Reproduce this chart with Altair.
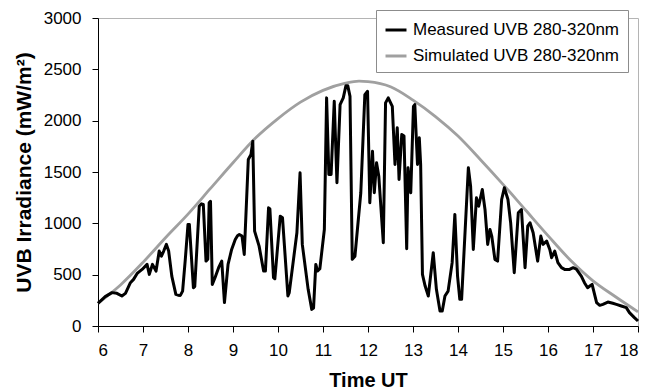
import altair as alt
import pandas as pd

# Measured UVB irradiance (280-320 nm), time in UT hours, mW/m2
meas_time = [
    6.00, 6.16, 6.31, 6.42, 6.53, 6.61, 6.72, 6.79, 6.87, 6.98,
    7.09, 7.14, 7.21, 7.29, 7.36, 7.41, 7.46, 7.52, 7.57, 7.64,
    7.73, 7.78, 7.83, 7.88, 7.94, 8.00, 8.03, 8.12, 8.15, 8.25,
    8.30, 8.34, 8.40, 8.44, 8.47, 8.50, 8.54, 8.60, 8.68, 8.75,
    8.81, 8.89, 8.97, 9.05, 9.10, 9.14, 9.20, 9.25, 9.34, 9.40,
    9.44, 9.48, 9.58, 9.68, 9.72, 9.79, 9.82, 9.90, 9.93, 10.05,
    10.10, 10.22, 10.25, 10.42, 10.49, 10.54, 10.67, 10.75, 10.79, 10.84,
    10.88, 10.93, 11.03, 11.08, 11.13, 11.18, 11.25, 11.31, 11.38, 11.45,
    11.51, 11.55, 11.60, 11.65, 11.71, 11.84, 11.93, 11.99, 12.04, 12.10,
    12.14, 12.19, 12.24, 12.34, 12.39, 12.45, 12.54, 12.60, 12.65, 12.69,
    12.75, 12.80, 12.86, 12.89, 12.95, 13.01, 13.04, 13.10, 13.14, 13.17,
    13.21, 13.27, 13.34, 13.45, 13.52, 13.60, 13.65, 13.71, 13.78, 13.87,
    13.93, 13.99, 14.04, 14.08, 14.23, 14.28, 14.34, 14.41, 14.46, 14.54,
    14.60, 14.66, 14.71, 14.75, 14.82, 14.88, 14.97, 15.03, 15.11, 15.17,
    15.25, 15.34, 15.41, 15.49, 15.55, 15.60, 15.67, 15.77, 15.84, 15.89,
    15.97, 16.04, 16.08, 16.15, 16.22, 16.30, 16.37, 16.48, 16.56, 16.63,
    16.74, 16.81, 16.88, 16.93, 16.98, 17.08, 17.15, 17.22, 17.33, 17.44,
    17.52, 17.63, 17.74, 17.81, 17.92, 18.00,
]
meas_uvb = [
    221, 286, 325, 318, 292, 318, 422, 454, 512, 551,
    600, 503, 600, 535, 730, 681, 730, 795, 730, 486,
    308, 300, 298, 340, 649, 989, 989, 373, 383, 1167,
    1190, 1184, 632, 650, 1200, 1215, 405, 470, 568, 632,
    228, 600, 746, 843, 880, 892, 876, 697, 1621, 1670,
    1800, 924, 778, 535, 535, 1151, 1140, 471, 460, 1070,
    1054, 292, 325, 908, 1492, 795, 357, 162, 175, 600,
    535, 558, 940, 2222, 1476, 1476, 2189, 1395, 2157, 2222,
    2341, 2341, 2237, 649, 680, 1298, 2254, 2286, 1200, 1702,
    1298, 1589, 1459, 811, 2173, 2222, 2140, 1573, 1930, 1427,
    1865, 1850, 753, 1541, 1298, 2140, 2157, 1573, 1833, 1573,
    503, 389, 292, 714, 357, 146, 146, 292, 340, 617,
    1087, 486, 260, 260, 1541, 1362, 746, 1249, 1167, 1330,
    1135, 795, 940, 876, 649, 632, 1232, 1346, 1232, 1006,
    519, 1103, 1135, 568, 973, 1006, 908, 632, 876, 795,
    827, 746, 665, 730, 617, 568, 551, 551, 568, 555,
    486, 422, 373, 389, 405, 228, 201, 211, 233, 221,
    211, 195, 179, 130, 82, 49,
]

# Simulated clear-sky UVB irradiance
sim_time = [6.0, 6.5, 7.0, 7.5, 8.0, 8.5, 9.0, 9.5, 10.0, 10.5, 11.0, 11.5,
            11.8, 12.0, 12.5, 13.0, 13.5, 14.0, 14.5, 15.0, 15.5, 16.0,
            16.5, 17.0, 17.5, 18.0]
sim_uvb = [222, 400, 620, 860, 1090, 1340, 1590, 1830, 2020, 2180, 2295, 2365,
           2385, 2380, 2330, 2200, 2040, 1850, 1620, 1380, 1130, 880,
           640, 440, 285, 138]

MEAS = "Measured UVB 280-320nm"
SIM = "Simulated UVB 280-320nm"

meas_df = pd.DataFrame({"t": meas_time, "uvb": meas_uvb, "series": MEAS})
sim_df = pd.DataFrame({"t": sim_time, "uvb": sim_uvb, "series": SIM})

FONT = "Liberation Sans"

x_enc = alt.X(
    "t:Q",
    scale=alt.Scale(domain=[6, 18], nice=False),
    axis=alt.Axis(
        title="Time UT",
        values=list(range(6, 19)),
        format="d",
        tickSize=6,
        labelPadding=10,
        titlePadding=12,
    ),
)
y_enc = alt.Y(
    "uvb:Q",
    scale=alt.Scale(domain=[0, 3000], nice=False),
    axis=alt.Axis(
        title="UVB Irradiance (mW/m²)",
        titleFontSize=21,
        values=list(range(0, 3001, 500)),
        format="d",
        tickSize=6,
        labelPadding=11,
        titlePadding=9,
    ),
)
color_enc = alt.Color(
    "series:N",
    scale=alt.Scale(domain=[MEAS, SIM], range=["#000000", "#a0a0a0"]),
    legend=alt.Legend(
        title=None,
        orient="none",
        legendX=278,
        legendY=-8,
        symbolType="stroke",
        symbolSize=440,
        symbolStrokeWidth=3,
        labelFontSize=17,
        labelFont=FONT,
        labelColor="#000000",
        labelLimit=400,
        labelOffset=5,
        rowPadding=6,
        padding=8,
        strokeColor="#8c8c8c",
        fillColor="#ffffff",
    ),
)

sim_line = alt.Chart(sim_df).mark_line(
    strokeWidth=2.8, interpolate="monotone"
).encode(x=x_enc, y=y_enc, color=color_enc)

meas_line = alt.Chart(meas_df).mark_line(
    strokeWidth=3, strokeJoin="round"
).encode(x=x_enc, y=y_enc, color=color_enc)

chart = (
    alt.layer(sim_line, meas_line)
    .properties(
        width=540,
        height=308,
        autosize=alt.AutoSizeParams(type="none"),
        padding={"left": 98, "top": 18, "right": 10, "bottom": 66},
        background="#ffffff",
    )
    .configure_view(stroke="#b4b4b4", strokeWidth=1)
    .configure_axis(
        grid=False,
        domainColor="#000000",
        domainWidth=1,
        tickColor="#000000",
        tickWidth=1,
        labelFont=FONT,
        labelFontSize=17,
        labelColor="#000000",
        titleFont=FONT,
        titleFontSize=20,
        titleFontWeight="bold",
        titleColor="#000000",
    )
)

chart.save("out.html", embed_options={"renderer": "svg", "actions": False})
